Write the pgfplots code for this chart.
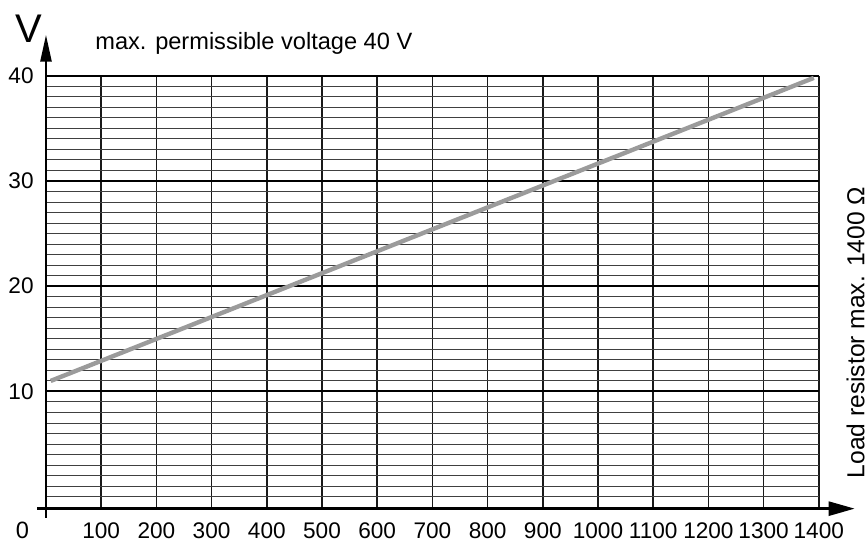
\documentclass[border=0pt]{standalone}
\usepackage{pgfplots}
\pgfplotsset{compat=1.18}
\usepackage{fontspec}
\setmainfont{Liberation Sans}
\usetikzlibrary{arrows.meta}
\definecolor{curvegray}{RGB}{155,155,155}
\begin{document}
\begin{tikzpicture}
\begin{axis}[
  scale only axis,
  width=386.5pt, height=216.5pt,
  xmin=0, xmax=1400, ymin=-1.14, ymax=40,
  clip=false,
  axis line style={draw=none},
  tick style={draw=none},
  major tick length=0pt, minor tick length=0pt,
  xtick={100,200,...,1400},
  ytick={10,20,30,40},
  minor ytick={0,1,...,40},
  grid=both,
  minor grid style={black!75, line width=0.5pt},
  major x grid style={black!90, line width=0.8pt},
  major y grid style={black, line width=1pt},
  ticklabel style={font=\fontsize{11.3}{14}\selectfont},
  /pgf/number format/assume math mode=true,
  /pgf/number format/1000 sep={},
  xticklabel style={inner sep=0pt, anchor=north, yshift=-7pt},
  yticklabel style={inner sep=0pt, anchor=east, xshift=-6pt},
]
% curve
\addplot[curvegray, line width=2.2pt, line cap=butt] coordinates {(8.5,11.0) (1391,39.8)};
% axes
\draw[line width=1.3pt, -{Triangle[length=13.5pt,width=5.5pt]}] (axis cs:0,-2.0) -- (axis cs:0,43.9);
\draw[line width=1.3pt, -{Triangle[length=13pt,width=7pt]}] (axis cs:-16,-1.14) -- (axis cs:1465,-1.14);
% labels
\node[anchor=base west, inner sep=0pt, font=\fontsize{11.8}{14}\selectfont] at (axis cs:88.8,42.45) {max. permissible voltage 40 V};
\node[inner sep=0pt, font=\fontsize{20}{24}\selectfont] at (axis cs:-30.8,44.5) {V};
\node[inner sep=0pt, font=\fontsize{11.8}{14}\selectfont] at (axis cs:-42.6,-3.23) {0};
\node[inner sep=0pt, rotate=90, anchor=base, font=\fontsize{12.3}{15}\selectfont] at (axis cs:1482.5,15.6) {Load resistor max. 1400 Ω};
\coordinate (bl) at (axis cs:-83.3,-4.37);
\coordinate (tr) at (axis cs:1487.3,47.2);
\end{axis}
\pgfresetboundingbox
\path[use as bounding box] (bl) rectangle (tr);
\end{tikzpicture}
\end{document}
